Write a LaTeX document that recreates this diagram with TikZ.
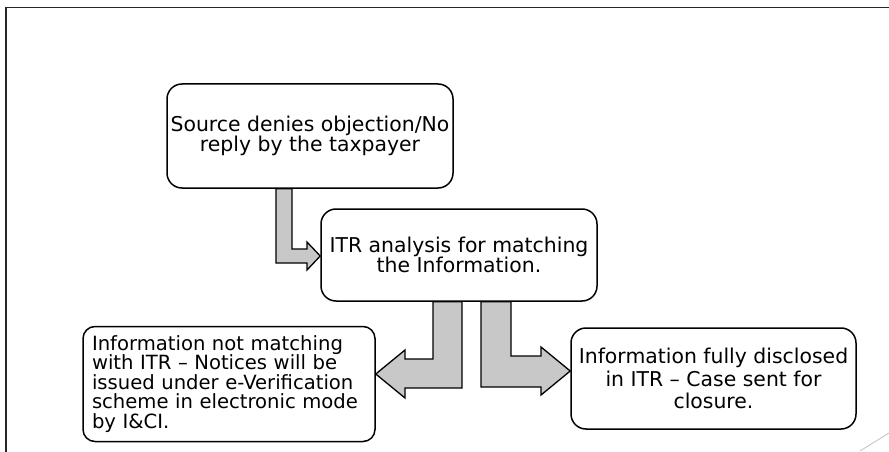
\documentclass[tikz,border=0pt]{standalone}
\usepackage{fontspec}
\setmainfont{DejaVu Sans}
\usetikzlibrary{calc}
\definecolor{arrowgray}{RGB}{200,200,200}
\begin{document}
\begin{tikzpicture}[x=1pt,y=-1pt,
  box/.style={draw=black, line width=1.5pt, rounded corners=15pt, fill=white,
    inner sep=0pt, align=center, font=\fontsize{20.4pt}{20.5pt}\selectfont},
  blockarrow/.style={draw=black, line width=1.3pt, fill=arrowgray, line join=miter},
  frameline/.style={draw=black!85, line width=1.4pt}]
\useasboundingbox (0,0) rectangle (889,452);
\draw[frameline] (6,452) -- (6,7.5) -- (889,7.5);
\draw[black!25, line width=0.8pt] (860,451) -- (889,433);

\node[box, minimum width=286pt, minimum height=104pt] (b1) at (310,136)
  {Source denies objection/No\\reply by the taxpayer};
\node[box, minimum width=276pt, minimum height=92pt] (b2) at (459,255)
  {ITR analysis for matching\\the Information.};
\node[box, rounded corners=12pt, minimum width=292pt, minimum height=115pt,
  text width=274pt, align=left, font=\fontsize{19.6pt}{19.5pt}\selectfont] (b3) at (229,384)
  {Information not matching\\with ITR – Notices will be\\issued under e-Verification\\scheme in electronic mode\\by I\&CI.};
\node[box, minimum width=285pt, minimum height=101pt,
  font=\fontsize{20.4pt}{22.5pt}\selectfont] (b4) at (713.5,378.5)
  {Information fully disclosed\\in ITR – Case sent for\\closure.};

\draw[blockarrow] (276,0 |- b1.south) -- (292,0 |- b1.south) -- (292,249) -- (307,249)
  -- (307,242) -- (b2.west |- 0,256) -- (307,270) -- (307,263) -- (276,263) -- cycle;
\draw[blockarrow] (433,0 |- b2.south) -- (462,0 |- b2.south) -- (462,388) -- (405,388)
  -- (405,398) -- (b3.east |- 0,374) -- (405,350) -- (405,359) -- (433,359) -- cycle;
\draw[blockarrow] (481,0 |- b2.south) -- (511,0 |- b2.south) -- (511,356) -- (541,356)
  -- (541,347) -- (b4.west |- 0,371) -- (541,395) -- (541,387) -- (481,387) -- cycle;
\end{tikzpicture}
\end{document}
